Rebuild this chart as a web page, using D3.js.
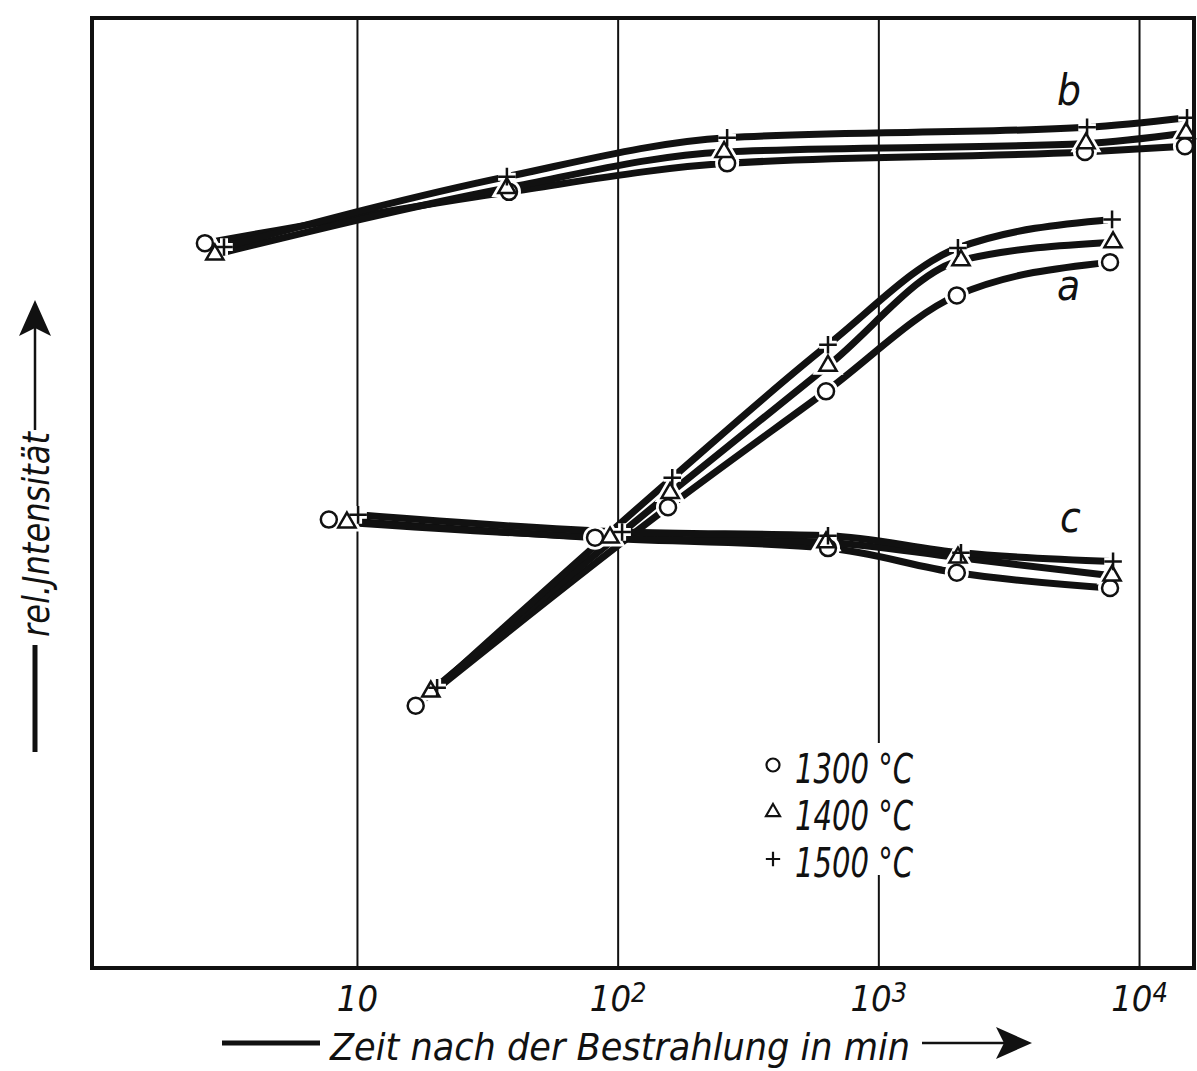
<!DOCTYPE html>
<html>
<head>
<meta charset="utf-8">
<script src="https://cdn.jsdelivr.net/npm/d3@7"></script>
<style>
	body { margin: 0; background: #fff; }
	text { font-family: "Liberation Sans Narrow", "DejaVu Sans Condensed", "Liberation Sans", sans-serif; font-style: italic; fill: #111; }
</style>
</head>
<body>
<div id="chart"></div>
<script>
// time after irradiation (min) and relative intensity
const xDomain = [0.963, 16250];
const yDomain = [0, 100];
const tickValues = [10, 100, 1000, 10000];
const tickExps = ["", "2", "3", "4"];

const temps = ["1300 °C", "1400 °C", "1500 °C"];

// curve b
const b1300 = [[2.61, 76.3], [38.3, 81.7], [263, 84.7], [6200, 85.9], [15000, 86.5]];
const b1400 = [[2.85, 75.1], [37.6, 82.1], [256, 85.9], [6260, 86.8], [15150, 87.9]];
const b1500 = [[3.09, 75.9], [37.6, 83.3], [263, 87.4], [6320, 88.5], [15280, 89.5]];

// curve a
const a1300 = [[16.8, 27.6], [156, 48.5], [630, 60.7], [2000, 70.8], [7740, 74.3]];
const a1400 = [[19.2, 29.1], [159, 50.0], [641, 63.4], [2075, 74.5], [7950, 76.4]];
const a1500 = [[20.3, 29.5], [162, 51.6], [641, 65.6], [2020, 75.8], [7880, 78.8]];

// curve c
const c1300 = [[7.8, 47.2], [81.9, 45.3], [641, 44.2], [2000, 41.6], [7740, 40.0]];
const c1400 = [[9.15, 46.9], [93.5, 45.3], [630, 44.8], [2020, 43.2], [7880, 41.3]];
const c1500 = [[10.1, 47.7], [104, 45.9], [641, 45.5], [2075, 43.7], [7950, 42.8]];

const curveLabels = [
	{ name: "b", t: 4850, v: 90.8 },
	{ name: "a", t: 4850, v: 70.3 },
	{ name: "c", t: 4980, v: 45.9 }
];

const curves = [
	{ name: "b", series: [b1300, b1400, b1500] },
	{ name: "a", series: [a1300, a1400, a1500] },
	{ name: "c", series: [c1300, c1400, c1500] }
];

const width = 1197;
const height = 1071;
const plotLeft = 92, plotRight = 1194, plotTop = 18, plotBottom = 968;

const svg = d3.select("div#chart")
	.append("svg")
		.attr("width", width)
		.attr("height", height);

const x = d3.scaleLog().domain(xDomain).range([plotLeft, plotRight]);
const y = d3.scaleLinear().domain(yDomain).range([plotBottom, plotTop]);

// grid lines
svg.append("g")
	.attr("class", "grid")
	.attr("transform", `translate(0,${plotBottom})`)
	.call(d3.axisBottom(x).tickValues(tickValues).tickSize(-(plotBottom - plotTop)).tickFormat(""))
	.call(g => g.select(".domain").remove())
	.call(g => g.selectAll("line").attr("stroke", "#111").attr("stroke-width", 2));

// tick labels
const axis = svg.append("g")
	.attr("transform", `translate(0,${plotBottom})`)
	.call(d3.axisBottom(x).tickValues(tickValues).tickSize(0).tickPadding(17).tickFormat(""));
axis.select(".domain").remove();
axis.selectAll(".tick text")
	.attr("font-size", 36)
	.attr("font-family", null)
	.attr("fill", null)
	.each(function(d, i) {
		const t = d3.select(this);
		t.append("tspan").text("10");
		if (tickExps[i]) {
			t.append("tspan").attr("dy", -9).attr("font-size", 27).text(tickExps[i]);
		}
	});

const line = d3.line()
	.curve(d3.curveMonotoneX)
	.x(d => x(d[0]))
	.y(d => y(d[1]));

const shapes = [
	r => d3.symbol().type(d3.symbolCircle).size(Math.PI * r * r)(),
	r => d3.symbol().type(d3.symbolTriangle).size(r * r * 2.0)(),
	r => `M${-r * 1.1},0H${r * 1.1}M0,${-r * 1.1}V${r * 1.1}`
];

const lines = svg.append("g").attr("class", "lines");
const halos = svg.append("g").attr("class", "halos");
const marks = svg.append("g").attr("class", "marks");

curves.forEach(c => {
	c.series.forEach((s, i) => {
		lines.append("path")
			.attr("fill", "none")
			.attr("stroke", "#111")
			.attr("stroke-width", 7)
			.attr("d", line(s));

		halos.selectAll(null)
			.data(s)
			.enter()
			.append("path")
			.attr("transform", d => `translate(${x(d[0])},${y(d[1])})`)
			.attr("d", shapes[i](8))
			.attr("fill", "#fff")
			.attr("stroke", "#fff")
			.attr("stroke-width", 8);

		marks.selectAll(null)
			.data(s)
			.enter()
			.append("path")
			.attr("transform", d => `translate(${x(d[0])},${y(d[1])})`)
			.attr("d", shapes[i](8))
			.attr("fill", i == 2 ? "none" : "#fff")
			.attr("stroke", "#111")
			.attr("stroke-width", 2.5);
	});
});

// frame
svg.append("rect")
	.attr("x", plotLeft)
	.attr("y", plotTop)
	.attr("width", plotRight - plotLeft)
	.attr("height", plotBottom - plotTop)
	.attr("fill", "none")
	.attr("stroke", "#111")
	.attr("stroke-width", 4);

// curve names
svg.selectAll(".curve-label")
	.data(curveLabels)
	.enter()
	.append("text")
	.attr("class", "curve-label")
	.attr("x", d => x(d.t))
	.attr("y", d => y(d.v))
	.attr("font-size", 42)
	.text(d => d.name);

// legend
const legend = svg.append("g").attr("transform", "translate(773,765)");
legend.append("rect")
	.attr("x", -12).attr("y", -22)
	.attr("width", 155).attr("height", 132)
	.attr("fill", "#fff");
temps.forEach((tp, i) => {
	const row = legend.append("g").attr("transform", `translate(0,${i * 47})`);
	row.append("path")
		.attr("d", shapes[i](6.5))
		.attr("fill", "none")
		.attr("stroke", "#111")
		.attr("stroke-width", 2.2);
	row.append("text")
		.attr("x", 22)
		.attr("y", 18)
		.attr("font-size", 40)
		.attr("textLength", 118)
		.attr("lengthAdjust", "spacingAndGlyphs")
		.text(tp);
});

// x axis title with arrows
svg.append("text")
	.attr("x", 330)
	.attr("y", 1060)
	.attr("font-size", 38)
	.attr("textLength", 580)
	.attr("lengthAdjust", "spacingAndGlyphs")
	.text("Zeit nach der Bestrahlung in min");

svg.append("line")
	.attr("x1", 222).attr("x2", 320)
	.attr("y1", 1043).attr("y2", 1043)
	.attr("stroke", "#111").attr("stroke-width", 5);
svg.append("line")
	.attr("x1", 922).attr("x2", 1005)
	.attr("y1", 1043).attr("y2", 1043)
	.attr("stroke", "#111").attr("stroke-width", 2.5);
svg.append("path")
	.attr("d", "M1032,1043L996,1027L1004,1043L996,1059Z")
	.attr("fill", "#111");

// y axis title with arrows
svg.append("text")
	.attr("transform", "translate(49,637) rotate(-90)")
	.attr("font-size", 38)
	.attr("textLength", 205)
	.attr("lengthAdjust", "spacingAndGlyphs")
	.text("rel.Jntensität");

svg.append("line")
	.attr("x1", 35).attr("x2", 35)
	.attr("y1", 752).attr("y2", 645)
	.attr("stroke", "#111").attr("stroke-width", 5);
svg.append("line")
	.attr("x1", 35).attr("x2", 35)
	.attr("y1", 430).attr("y2", 325)
	.attr("stroke", "#111").attr("stroke-width", 2.5);
svg.append("path")
	.attr("d", "M35,300L19,336L35,328L51,336Z")
	.attr("fill", "#111");
</script>
</body>
</html>
